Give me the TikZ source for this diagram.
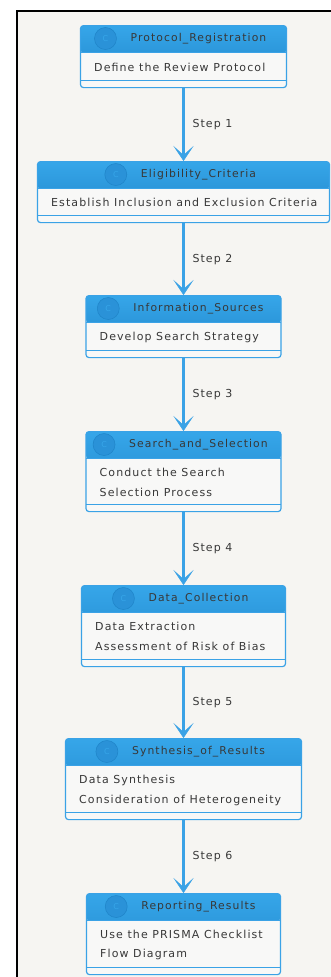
\documentclass[tikz,border=0pt]{standalone}
\usepackage{fontspec}
\setmainfont{DejaVu Sans}[LetterSpace=10]
\usetikzlibrary{arrows.meta}

\definecolor{umlblue}{HTML}{3AA2E6}
\definecolor{headtop}{HTML}{36A6E9}
\definecolor{headbot}{HTML}{1F84C8}
\definecolor{iconfill}{HTML}{2A92D8}
\definecolor{paper}{HTML}{F6F5F2}
\definecolor{boxfill}{HTML}{F8F8F7}
\definecolor{ink}{HTML}{383838}

\tikzset{
  classbox/.style={rectangle, anchor=north, draw=umlblue, line width=1.2pt,
    fill=boxfill, rounded corners=3pt, inner sep=0pt,
    path picture={
      \shade[top color=headtop, bottom color=headbot]
        (path picture bounding box.north west) rectangle
        ([yshift=-27pt]path picture bounding box.north east);
      \draw[umlblue, line width=1.2pt]
        ([yshift=-27pt]path picture bounding box.north west) --
        ([yshift=-27pt]path picture bounding box.north east);
      \draw[umlblue, line width=1.2pt]
        ([yshift=7.5pt]path picture bounding box.south west) --
        ([yshift=7.5pt]path picture bounding box.south east);
    }},
  classname/.style={text=ink, font=\fontsize{10.8}{12}\selectfont, inner sep=0pt},
  classicon/.style={circle, minimum size=22pt, inner sep=0pt, fill=iconfill,
    draw=headbot, line width=0.5pt, text=headtop, font=\fontsize{8}{9}\selectfont},
  member/.style={anchor=west, text=ink, font=\fontsize{11}{13}\selectfont, inner sep=0pt},
  flow/.style={draw=umlblue, line width=3pt,
    -{Stealth[length=15pt, width=20pt, inset=9pt, line width=0.5pt]}},
  steplabel/.style={right=7.5pt, inner sep=0pt, text=ink, font=\fontsize{11}{13}\selectfont}
}

\begin{document}
\begin{tikzpicture}[x=1pt,y=-1pt]
\useasboundingbox (0,0) rectangle (331,977);
\fill[paper] (17,11) rectangle (334,980);
\draw[line width=2pt] (17,980) -- (17,11) -- (334,11);

% Protocol_Registration
\node[classbox, minimum width=206pt, minimum height=62pt] (prot) at (183.5,25) {};
\node[classname] (protN) at (198.5,38.5) {Protocol\_Registration};
\node[classicon] (protC) at ([xshift=-25pt]protN.west) {C};
\node[member] (protA) at (94,67) {Define the Review Protocol};

% Eligibility_Criteria
\node[classbox, minimum width=292pt, minimum height=61pt] (elig) at (183.5,161) {};
\node[classname] (eligN) at (198.5,174.5) {Eligibility\_Criteria};
\node[classicon] (eligC) at ([xshift=-25pt]eligN.west) {C};
\node[member] (eligA) at (51,202) {Establish Inclusion and Exclusion Criteria};

% Information_Sources
\node[classbox, minimum width=195pt, minimum height=62pt] (info) at (183.5,295) {};
\node[classname] (infoN) at (198.5,308.5) {Information\_Sources};
\node[classicon] (infoC) at ([xshift=-25pt]infoN.west) {C};
\node[member] (infoA) at (99.5,337) {Develop Search Strategy};

% Search_and_Selection
\node[classbox, minimum width=195pt, minimum height=80pt] (srch) at (183.5,431) {};
\node[classname] (srchN) at (198.5,444.5) {Search\_and\_Selection};
\node[classicon] (srchC) at ([xshift=-25pt]srchN.west) {C};
\node[member] (srchA) at (99.5,472) {Conduct the Search};
\node[member] (srchB) at (99.5,492) {Selection Process};

% Data_Collection
\node[classbox, minimum width=204pt, minimum height=81pt] (data) at (183.5,585) {};
\node[classname] (dataN) at (198.5,598.5) {Data\_Collection};
\node[classicon] (dataC) at ([xshift=-25pt]dataN.west) {C};
\node[member] (dataA) at (95,626) {Data Extraction};
\node[member] (dataB) at (95,646) {Assessment of Risk of Bias};

% Synthesis_of_Results
\node[classbox, minimum width=236pt, minimum height=81pt] (synt) at (183.5,738) {};
\node[classname] (syntN) at (198.5,751.5) {Synthesis\_of\_Results};
\node[classicon] (syntC) at ([xshift=-25pt]syntN.west) {C};
\node[member] (syntA) at (79,780) {Data Synthesis};
\node[member] (syntB) at (79,800) {Consideration of Heterogeneity};

% Reporting_Results
\node[classbox, minimum width=194pt, minimum height=81pt] (repo) at (183.5,893) {};
\node[classname] (repoN) at (198.5,906.5) {Reporting\_Results};
\node[classicon] (repoC) at ([xshift=-25pt]repoN.west) {C};
\node[member] (repoA) at (100,934) {Use the PRISMA Checklist};
\node[member] (repoB) at (100,954) {Flow Diagram};

% steps
\draw[flow] (prot.south) -- node[steplabel] {Step 1} (elig.north);
\draw[flow] (elig.south) -- node[steplabel] {Step 2} (info.north);
\draw[flow] (info.south) -- node[steplabel] {Step 3} (srch.north);
\draw[flow] (srch.south) -- node[steplabel] {Step 4} (data.north);
\draw[flow] (data.south) -- node[steplabel] {Step 5} (synt.north);
\draw[flow] (synt.south) -- node[steplabel] {Step 6} (repo.north);
\end{tikzpicture}
\end{document}
